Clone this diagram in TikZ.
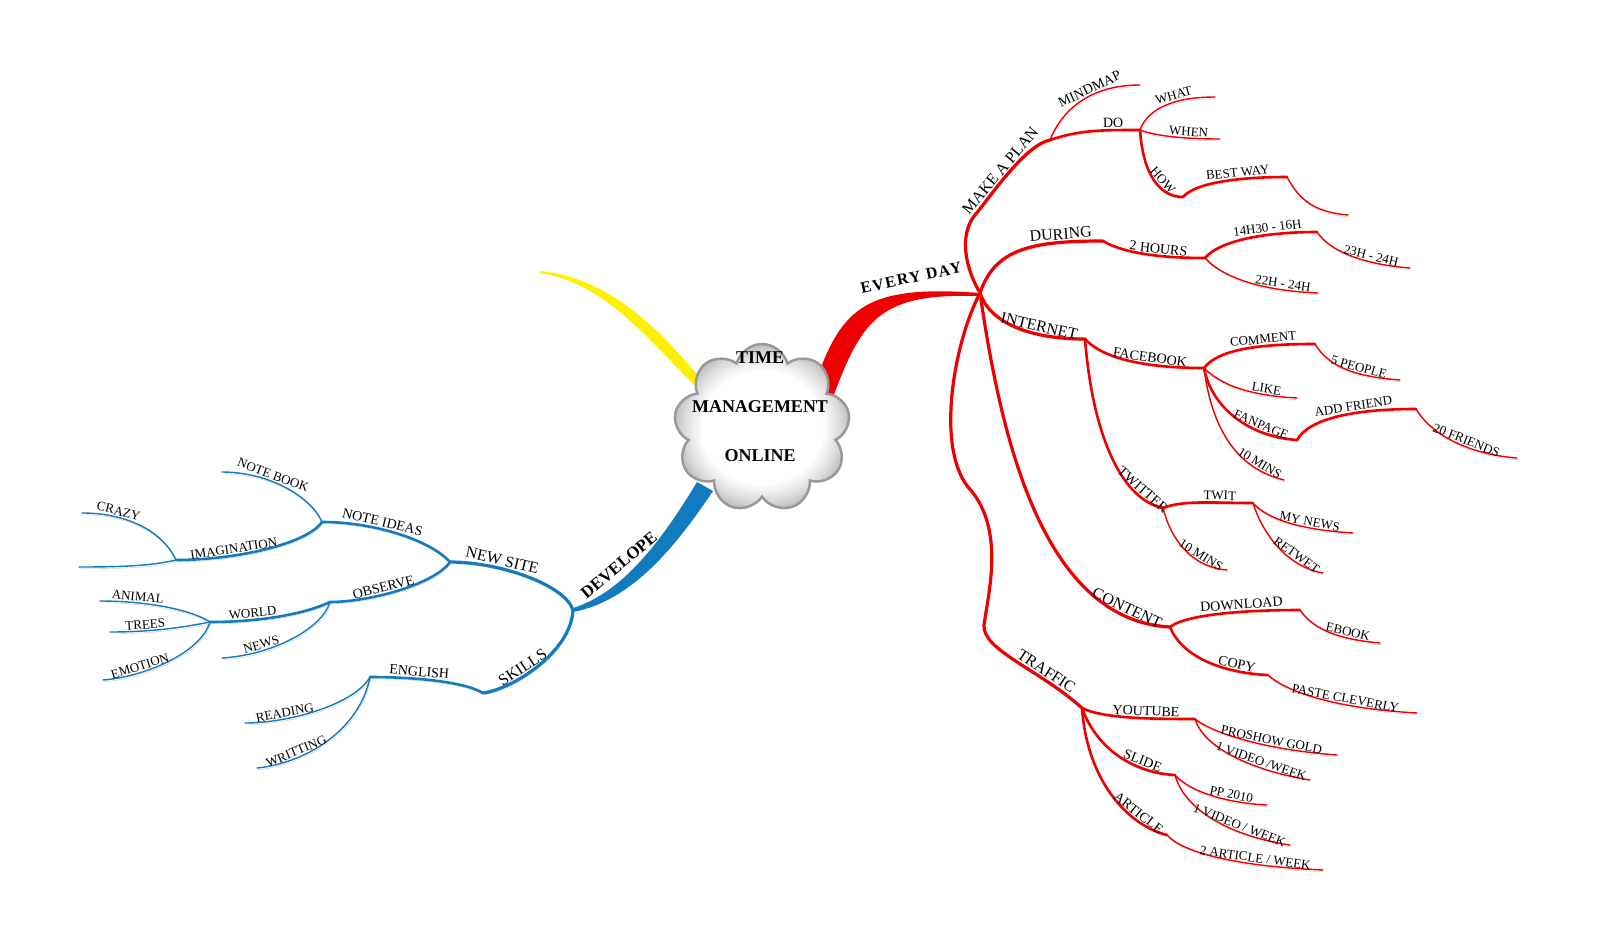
\documentclass[tikz,border=0pt]{standalone}
\usepackage{fontspec}
\setmainfont{Liberation Serif}
\newfontfamily\widefont[LetterSpace=9]{Liberation Serif}
\usetikzlibrary{shapes.symbols}
\definecolor{mapred}{RGB}{238,0,0}
\definecolor{mapblue}{RGB}{18,122,190}
\definecolor{mapyellow}{RGB}{255,240,0}
\pgfdeclareradialshading{cloudglow}{\pgfpoint{0bp}{0bp}}{color(0bp)=(white); color(17bp)=(white); color(22bp)=(black!14); color(25bp)=(black!26); color(50bp)=(black!26)}

\begin{document}
\begin{tikzpicture}[x=1pt, y=-1pt, line cap=round,
  softshade/.style={preaction={draw=black!22, transform canvas={shift={(0.8pt,-1.8pt)}}}},
  redbig/.style={draw=mapred, line width=3.2pt, softshade},
  redmid/.style={draw=mapred, line width=2.6pt, softshade},
  redleaf/.style={draw=mapred, line width=1.4pt, softshade},
  bluebig/.style={draw=mapblue, line width=3.2pt, softshade},
  bluemid/.style={draw=mapblue, line width=2.6pt, softshade},
  blueleaf/.style={draw=mapblue, line width=1.4pt, softshade},
  labA/.style={font=\fontsize{16}{16}\selectfont, sloped, above, inner sep=1.2pt},
  labB/.style={font=\fontsize{14}{14}\selectfont, sloped, above, inner sep=1.2pt},
  labC/.style={font=\fontsize{13}{13}\selectfont, sloped, above, inner sep=1.2pt},
  mainlab/.style={font=\bfseries\fontsize{17}{17}\selectfont, inner sep=0pt}]
  \useasboundingbox (0,0) rectangle (1600,952);

  % junctions, right side
  \coordinate (hub) at (980,293);
  \coordinate (mkpbend) at (975,215);
  \coordinate (mkp) at (1050,140);
  \coordinate (mindmap) at (1140,85);
  \coordinate (do) at (1140,130);
  \coordinate (what) at (1215,97);
  \coordinate (when) at (1220,139);
  \coordinate (how) at (1183,197);
  \coordinate (bestway) at (1287,177);
  \coordinate (bwend) at (1348,215);
  \coordinate (during) at (1103,241);
  \coordinate (hours) at (1205,258);
  \coordinate (h1416) at (1317,232);
  \coordinate (h2324) at (1410,268);
  \coordinate (h2224) at (1318,293);
  \coordinate (internet) at (1085,339);
  \coordinate (facebook) at (1204,368);
  \coordinate (comment) at (1315,344);
  \coordinate (people) at (1400,380);
  \coordinate (like) at (1297,398);
  \coordinate (fanpage) at (1297,440);
  \coordinate (addfriend) at (1416,409);
  \coordinate (friends) at (1517,458);
  \coordinate (fbmins) at (1284,480);
  \coordinate (twitter) at (1163,508);
  \coordinate (twit) at (1253,503);
  \coordinate (mynews) at (1353,533);
  \coordinate (retwet) at (1323,573);
  \coordinate (twmins) at (1227,570);
  \coordinate (content) at (1170,627);
  \coordinate (download) at (1300,610);
  \coordinate (ebook) at (1380,643);
  \coordinate (copy) at (1268,675);
  \coordinate (paste) at (1417,713);
  \coordinate (trbendA) at (968,487);
  \coordinate (trbendB) at (984,625);
  \coordinate (traffic) at (1082,708);
  \coordinate (youtube) at (1195,719);
  \coordinate (proshow) at (1337,755);
  \coordinate (ytweek) at (1310,780);
  \coordinate (slide) at (1175,775);
  \coordinate (pp) at (1267,805);
  \coordinate (slweek) at (1290,845);
  \coordinate (article) at (1167,835);
  \coordinate (artweek) at (1323,870);

  % junctions, left side
  \coordinate (dev) at (573,610);
  \coordinate (newsite) at (450,562);
  \coordinate (noteideas) at (322,522);
  \coordinate (notebook) at (222,472);
  \coordinate (imagin) at (176,560);
  \coordinate (crazy) at (82,513);
  \coordinate (imgend) at (79,567);
  \coordinate (observe) at (330,602);
  \coordinate (world) at (210,622);
  \coordinate (animal) at (100,601);
  \coordinate (trees) at (110,632);
  \coordinate (emotion) at (103,680);
  \coordinate (news) at (222,658);
  \coordinate (skills) at (483,693);
  \coordinate (english) at (370,677);
  \coordinate (reading) at (245,723);
  \coordinate (writting) at (257,768);

  % main tapered branches
  \fill[mapyellow] (700,378) .. controls (660,330) and (610,278) .. (540,271)
    -- (540,273) .. controls (610,284) and (652,346) .. (708,398) -- cycle;
  \fill[mapred] (812,392) .. controls (840,310) and (860,284) .. (hub)
    -- (980,296) .. controls (880,293) and (862,318) .. (832,400) -- cycle;
  \fill[mapblue] (697,482) .. controls (665,535) and (625,592) .. (573,608)
    -- (573,612) .. controls (632,601) and (676,546) .. (713,491) -- cycle;
  \node[mainlab, font=\widefont\bfseries\fontsize{16}{16}\selectfont, rotate=12] (lEvery) at (911,278) {EVERY DAY};
  \node[mainlab, rotate=40] (lDev) at (619,565) {DEVELOPE};

  % central cloud
  \node[cloud, cloud puffs=9, aspect=1.05, minimum width=176pt, minimum height=168pt,
    draw=black!40, line width=2.5pt, shading=cloudglow] (root) at (762,428) {};
  \node[font=\bfseries\fontsize{18}{49}\selectfont, align=center] (title) at (760,407)
    {TIME\\MANAGEMENT\\ONLINE};

  % EVERY DAY
  \draw[redbig] (hub) .. controls +(-20,-35) and +(-12,14) .. (mkpbend)
    .. controls +(15,-18) and +(-25,5) .. node[labA, pos=0.47] (lMkp) {MAKE A PLAN} (mkp);
  \draw[redleaf] (mkp) .. controls +(12,-30) and +(-50,0) .. node[labB, pos=0.62] (lMind) {MINDMAP} (mindmap);
  \draw[redmid] (mkp) .. controls +(30,-10) and +(-40,0) .. node[labB, pos=0.75] (lDo) {DO} (do);
  \draw[redleaf] (do) .. controls +(8,-22) and +(-40,0) .. node[labC, pos=0.62] (lWhat) {WHAT} (what);
  \draw[redleaf] (do) .. controls +(15,6) and +(-35,0) .. node[labC, pos=0.68] (lWhen) {WHEN} (when);
  \draw[redmid] (do) .. controls +(3,45) and +(-23,0) .. node[labC, pos=0.58] (lHow) {HOW} (how);
  \draw[redmid] (how) .. controls +(12,-14) and +(-50,0) .. node[labC, pos=0.65] (lBest) {BEST WAY} (bestway);
  \draw[redleaf] (bestway) .. controls +(12,22) and +(-35,-3) .. (bwend);

  \draw[redbig] (hub) .. controls +(15,-45) and +(-70,0) .. node[labA, pos=0.78] (lDuring) {DURING} (during);
  \draw[redmid] (during) .. controls +(20,12) and +(-45,0) .. node[labB, pos=0.62] (lHours) {2 HOURS} (hours);
  \draw[redmid] (hours) .. controls +(15,-18) and +(-50,0) .. node[labC, pos=0.66] (l1416) {14H30 - 16H} (h1416);
  \draw[redleaf] (h1416) .. controls +(15,22) and +(-40,-3) .. node[labC, pos=0.65] (l2324) {23H - 24H} (h2324);
  \draw[redleaf] (hours) .. controls +(20,22) and +(-50,-2) .. node[labC, pos=0.75] (l2224) {22H - 24H} (h2224);

  \draw[redbig] (hub) .. controls +(10,30) and +(-55,0) .. node[labA, pos=0.68] (lInternet) {INTERNET} (internet);
  \draw[redmid] (internet) .. controls +(20,22) and +(-50,0) .. node[labB, pos=0.62] (lFacebook) {FACEBOOK} (facebook);
  \draw[redmid] (facebook) .. controls +(15,-20) and +(-50,0) .. node[labC, pos=0.64] (lComment) {COMMENT} (comment);
  \draw[redleaf] (comment) .. controls +(15,25) and +(-40,-3) .. node[labC, pos=0.6] (lPeople) {5 PEOPLE} (people);
  \draw[redleaf] (facebook) .. controls +(22,22) and +(-35,-2) .. node[labC, pos=0.7] (lLike) {LIKE} (like);
  \draw[redmid] (facebook) .. controls +(8,42) and +(-45,-3) .. node[labC, pos=0.7] (lFanpage) {FANPAGE} (fanpage);
  \draw[redmid] (fanpage) .. controls +(12,-22) and +(-60,0) .. node[labC, pos=0.62] (lAdd) {ADD FRIEND} (addfriend);
  \draw[redleaf] (addfriend) .. controls +(15,25) and +(-50,-4) .. node[labC, pos=0.6] (lFriends) {20 FRIENDS} (friends);
  \draw[redleaf] (facebook) .. controls +(10,80) and +(-32,-8) .. node[labC, pos=0.72] (lFbMins) {10 MINS} (fbmins);
  \draw[redmid] (internet) .. controls +(8,100) and +(-40,-8) .. node[labB, pos=0.78] (lTwitter) {TWITTER} (twitter);
  \draw[redmid] (twitter) .. controls +(20,-8) and +(-40,0) .. node[labC, pos=0.7] (lTwit) {TWIT} (twit);
  \draw[redleaf] (twit) .. controls +(15,17) and +(-50,-3) .. node[labC, pos=0.67] (lNews) {MY NEWS} (mynews);
  \draw[redleaf] (twit) .. controls +(12,38) and +(-30,-5) .. node[labC, pos=0.65] (lRetwet) {RETWET} (retwet);
  \draw[redleaf] (twitter) .. controls +(8,32) and +(-35,-3) .. node[labC, pos=0.68] (lTwMins) {10 MINS} (twmins);

  \draw[redbig] (hub) .. controls (1000,430) and (1040,620) .. node[labA, pos=0.87] (lContent) {CONTENT} (content);
  \draw[redmid] (content) .. controls +(15,-12) and +(-60,0) .. node[labB, pos=0.66] (lDownload) {DOWNLOAD} (download);
  \draw[redleaf] (download) .. controls +(15,22) and +(-35,-3) .. node[labC, pos=0.66] (lEbook) {EBOOK} (ebook);
  \draw[redmid] (content) .. controls +(12,30) and +(-45,-2) .. node[labB, pos=0.75] (lCopy) {COPY} (copy);
  \draw[redleaf] (copy) .. controls +(15,14) and +(-90,-5) .. node[labC, pos=0.68] (lPaste) {PASTE CLEVERLY} (paste);

  \draw[redbig] (hub) .. controls +(-25,47) and +(-33,-42) .. (trbendA)
    .. controls +(37,40) and +(5,-35) .. (trbendB)
    .. controls +(-2,25) and +(-42,-38) .. node[labA, pos=0.7] (lTraffic) {TRAFFIC} (traffic);
  \draw[redmid] (traffic) .. controls +(20,10) and +(-50,0) .. node[labB, pos=0.65] (lYoutube) {YOUTUBE} (youtube);
  \draw[redleaf] (youtube) .. controls +(15,12) and +(-80,-6) .. node[labC, pos=0.68] (lProshow) {PROSHOW GOLD} (proshow);
  \draw[redleaf] (youtube) .. controls +(10,32) and +(-50,-8) .. node[labC, pos=0.66] (lYtWeek) {1 VIDEO /WEEK} (ytweek);
  \draw[redmid] (traffic) .. controls +(15,42) and +(-40,-2) .. node[labB, pos=0.7] (lSlide) {SLIDE} (slide);
  \draw[redleaf] (slide) .. controls +(15,17) and +(-40,-2) .. node[labC, pos=0.68] (lPp) {PP 2010} (pp);
  \draw[redleaf] (slide) .. controls +(10,37) and +(-55,-8) .. node[labC, pos=0.66] (lSlWeek) {1 VIDEO / WEEK} (slweek);
  \draw[redmid] (traffic) .. controls +(5,72) and +(-40,-10) .. node[labB, pos=0.72] (lArticle) {ARTICLE} (article);
  \draw[redleaf] (article) .. controls +(15,17) and +(-90,-4) .. node[labC, pos=0.71] (lArtWeek) {2 ARTICLE / WEEK} (artweek);

  % DEVELOPE
  \draw[bluebig] (dev) .. controls +(-8,-25) and +(50,0) .. node[labA, pos=0.68] (lNewsite) {NEW SITE} (newsite);
  \draw[bluemid] (newsite) .. controls +(-20,-22) and +(52,0) .. node[labB, pos=0.62] (lIdeas) {NOTE IDEAS} (noteideas);
  \draw[blueleaf] (noteideas) .. controls +(-12,-27) and +(45,0) .. node[labC, pos=0.62] (lBook) {NOTE BOOK} (notebook);
  \draw[bluemid] (noteideas) .. controls +(-15,22) and +(60,0) .. node[labC, pos=0.68] (lImagin) {IMAGINATION} (imagin);
  \draw[blueleaf] (imagin) .. controls +(-15,-32) and +(40,0) .. node[labC, pos=0.7] (lCrazy) {CRAZY} (crazy);
  \draw[blueleaf] (imagin) .. controls +(-25,6) and +(40,0) .. (imgend);
  \draw[bluemid] (newsite) .. controls +(-15,22) and +(40,0) .. node[labB, pos=0.6] (lObserve) {OBSERVE} (observe);
  \draw[bluemid] (observe) .. controls +(-25,12) and +(50,0) .. node[labC, pos=0.7] (lWorld) {WORLD} (world);
  \draw[blueleaf] (world) .. controls +(-20,-13) and +(45,0) .. node[labC, pos=0.72] (lAnimal) {ANIMAL} (animal);
  \draw[blueleaf] (world) .. controls +(-30,6) and +(40,0) .. node[labC, pos=0.68] (lTrees) {TREES} (trees);
  \draw[blueleaf] (world) .. controls +(-10,32) and +(40,-3) .. node[labC, pos=0.7] (lEmotion) {EMOTION} (emotion);
  \draw[blueleaf] (observe) .. controls +(-8,27) and +(50,-3) .. node[labC, pos=0.72] (lNewsB) {NEWS} (news);
  \draw[bluebig] (dev) .. controls +(-2,42) and +(30,-4) .. node[labA, pos=0.6] (lSkills) {SKILLS} (skills);
  \draw[bluemid] (skills) .. controls +(-20,-12) and +(40,0) .. node[labB, pos=0.62] (lEnglish) {ENGLISH} (english);
  \draw[blueleaf] (english) .. controls +(-15,27) and +(45,0) .. node[labC, pos=0.72] (lReading) {READING} (reading);
  \draw[blueleaf] (english) .. controls +(-10,52) and +(50,-5) .. node[labC, pos=0.72] (lWritting) {WRITTING} (writting);
\end{tikzpicture}
\end{document}
